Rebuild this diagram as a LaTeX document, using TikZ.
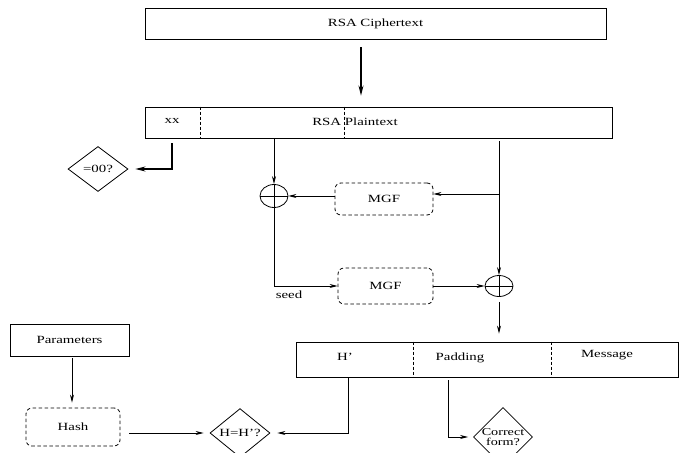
\documentclass[tikz,border=0pt]{standalone}
\usepackage{fontspec}
\setmainfont{Liberation Serif}[FakeStretch=1.35]
\usetikzlibrary{arrows.meta,shapes.geometric,calc}
\begin{document}
\begin{tikzpicture}[x=1pt,y=-1pt,
  font=\fontsize{11}{12}\selectfont,
  box/.style={draw, line width=0.8pt, inner sep=0pt},
  dbox/.style={draw, line width=0.8pt, dash pattern=on 3.5pt off 2.5pt, rounded corners=6pt, inner sep=0pt},
  dia/.style={draw, diamond, line width=0.8pt, inner sep=0pt, align=center},
  xor/.style={draw, ellipse, line width=0.8pt, inner sep=0pt,
     path picture={\draw[line width=0.8pt] (path picture bounding box.north) -- (path picture bounding box.south);
                   \draw[line width=0.8pt] (path picture bounding box.west) -- (path picture bounding box.east);}},
  arr/.style={-{Stealth[length=8pt,width=4pt]}, line width=0.8pt},
  tarr/.style={-{Stealth[length=10pt,width=5pt]}, line width=1.6pt},
  sep/.style={line width=0.8pt, dash pattern=on 3pt off 2pt},
  lbl/.style={inner sep=0pt}]
\useasboundingbox (0,0) rectangle (679,452);
\fill[white] (0,0) rectangle (679,452);

% top boxes
\node[box, minimum width=461pt, minimum height=31pt] (cipher) at (375.5,23.5) {RSA Ciphertext};
\node[box, minimum width=467pt, minimum height=31pt] (plain) at (378.5,122.5) {};
\node[lbl] (xx) at (172,121) {xx};
\node[lbl] (plaint) at (355,122) {RSA Plaintext};
\coordinate (s1) at (200,0);
\coordinate (s2) at (344,0);
\draw[sep] (plain.north -| s1) -- (plain.south -| s1);
\draw[sep] (plain.north -| s2) -- (plain.south -| s2);

\coordinate (tx) at (361,0);
\draw[tarr, shorten <=8pt, shorten >=11pt] (cipher.south -| tx) -- (plain.north -| tx);

% =00? check
\node[dia, minimum width=60pt, minimum height=45pt] (eq) at (98,169) {=00?};
\coordinate (xl) at (172,0);
\draw[tarr, shorten <=5pt, shorten >=7pt] (plain.south -| xl) |- (eq.east);

% xor and MGF
\node[xor, minimum width=28pt, minimum height=23pt] (xor1) at (274,196) {};
\node[xor, minimum width=28pt, minimum height=21pt] (xor2) at (499,286) {};
\node[dbox, minimum width=98pt, minimum height=32pt] (mgf1) at (384,199) {MGF};
\node[dbox, minimum width=95pt, minimum height=36pt] (mgf2) at (385.5,286) {MGF};
\node[lbl] (seed) at (289,295) {seed};

\draw[arr] (plain.south -| xor1) -- (xor1.north);
\draw[arr, shorten <=3pt] (plain.south -| xor2) -- (xor2.north);
\coordinate (br) at (499,194);
\draw[arr] (br) -- (mgf1.east |- br);
\draw[arr] (mgf1.west |- xor1) -- (xor1.east);
\draw[arr] (xor1.south) |- (mgf2.west);
\draw[arr] (mgf2.east) -- (xor2.west);

% output block
\node[box, minimum width=382pt, minimum height=35pt] (out) at (487,359.5) {};
\node[lbl] (hp) at (345,357) {H'};
\node[lbl] (pad) at (460,358) {Padding};
\node[lbl] (msg) at (607,355) {Message};
\coordinate (s3) at (413,0);
\coordinate (s4) at (551,0);
\draw[sep] (out.north -| s3) -- (out.south -| s3);
\draw[sep] (out.north -| s4) -- (out.south -| s4);
\draw[arr, shorten <=5pt, shorten >=8pt] (xor2.south) -- (out.north -| xor2);

% checks
\node[dia, minimum width=60pt, minimum height=46pt] (hh) at (240,433) {H=H'?};
\node[dia, minimum width=59pt, minimum height=44pt, font=\fontsize{10.5}{9.5}\selectfont] (cf) at (503,437) {Correct\\form?};
\coordinate (hx) at (348,0);
\draw[arr, shorten >=7pt] (out.south -| hx) |- (hh.east);
\coordinate (px) at (448,0);
\draw[arr, shorten <=3pt, shorten >=5pt] (out.south -| px) |- (cf.west);

% parameters and hash
\node[box, minimum width=119pt, minimum height=32pt] (params) at (69.5,340) {Parameters};
\node[dbox, minimum width=94pt, minimum height=38pt] (hash) at (73,427) {Hash};
\coordinate (ax) at (72,0);
\draw[arr, shorten <=2pt, shorten >=5pt] (params.south -| ax) -- (hash.north -| ax);
\draw[arr, shorten <=9pt, shorten >=6pt] (hash.east |- hh) -- (hh.west);
\end{tikzpicture}
\end{document}
